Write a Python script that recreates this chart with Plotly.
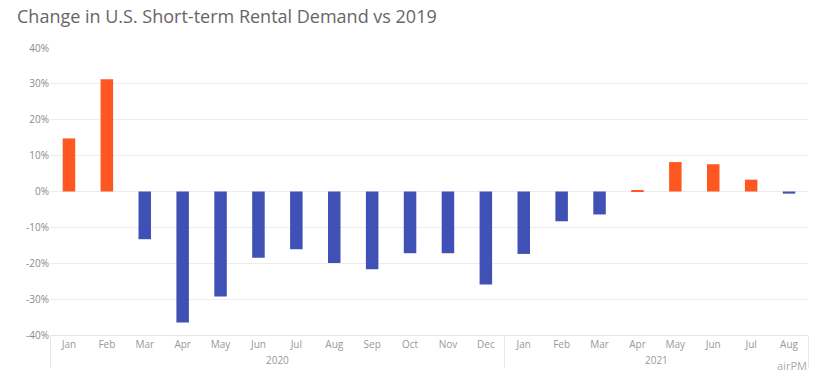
import plotly.graph_objects as go

years = ["2020"] * 12 + ["2021"] * 8
months = ["Jan", "Feb", "Mar", "Apr", "May", "Jun", "Jul", "Aug", "Sep", "Oct", "Nov", "Dec",
          "Jan", "Feb", "Mar", "Apr", "May", "Jun", "Jul", "Aug"]
values = [14.8, 31.3, -13.3, -36.5, -29.3, -18.5, -16.1, -19.9, -21.7, -17.2, -17.2, -25.9,
          -17.4, -8.3, -6.4, 0.4, 8.2, 7.6, 3.3, -0.6]
yticks = [-40, -30, -20, -10, 0, 10, 20, 30, 40]
ytick_text = [f"{v}%" for v in yticks]

ORANGE = "#FF5722"
BLUE = "#3F51B5"
colors = [ORANGE if v >= 0 else BLUE for v in values]

fig = go.Figure(go.Bar(
    x=[years, months], y=values, marker=dict(color=colors, line=dict(width=0)),
    width=0.33,
))

fig.update_layout(
    width=820, height=376,
    margin=dict(l=50, r=12, t=48, b=41, autoexpand=False),
    paper_bgcolor="white", plot_bgcolor="white",
    font=dict(family="Open Sans, Lato, sans-serif", color="#8a8a8a", size=11),
    title=dict(text="Change in U.S. Short-term Rental Demand vs 2019",
               x=17 / 820, xanchor="left", y=0.955, yanchor="middle",
               font=dict(size=18, color="#666666")),
    showlegend=False,
)
fig.update_yaxes(
    range=[-40, 40], tickvals=yticks, ticktext=ytick_text, automargin=False,
    showgrid=True, gridcolor="#ececec", gridwidth=1,
    zeroline=True, zerolinecolor="#ececec", zerolinewidth=1,
    tickfont=dict(size=10, color="#8a8a8a"), ticks="", ticklen=0,
    showline=False,
)
fig.update_xaxes(
    type="multicategory", showdividers=True, dividercolor="#e6e6e6", dividerwidth=1,
    tickfont=dict(size=10, color="#999999"), showline=True, linecolor="#e6e6e6",
    ticks="", showgrid=False, mirror=False, automargin=False,
)
fig.add_annotation(text="airPM", x=1.0, xref="paper", y=-0.105, yref="paper",
                   xanchor="right", yanchor="middle", showarrow=False, borderpad=0,
                   font=dict(size=11, color="rgba(140,140,140,0.75)"))

fig.write_html("out.html", post_script="document.body.style.margin='0';",
               config={"displayModeBar": False})
